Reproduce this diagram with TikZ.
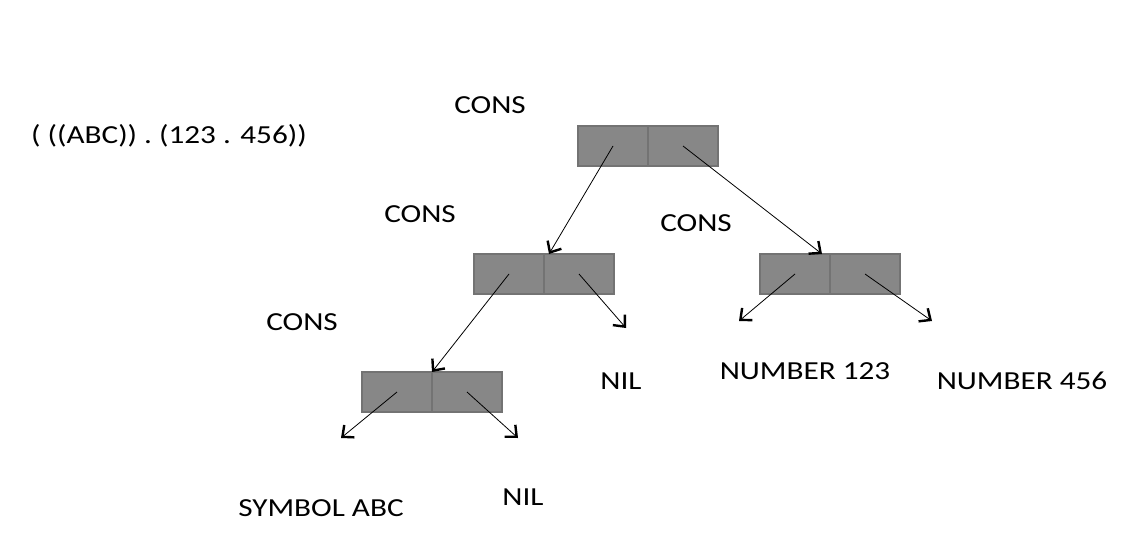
\documentclass[tikz,border=0pt]{standalone}
\usepackage{fontspec}
\setmainfont{Carlito}[FakeStretch=1.2]
\usetikzlibrary{positioning, arrows.meta, calc}

\begin{document}
\begin{tikzpicture}[
  x=1pt, y=-1pt,
  font=\fontsize{26}{30}\selectfont,
  cell/.style={draw=black!55, line width=1.2pt, fill=black!47, minimum width=70pt, minimum height=40pt, inner sep=0pt, outer sep=0pt},
  lbl/.style={inner sep=0pt, anchor=center},
  ptr/.style={-{Straight Barb[length=9pt, width=16pt, line width=2.4pt]}, line width=0.8pt}
]
  \useasboundingbox (0,0) rectangle (1144,541);

  % cons cells
  \node[cell] (c1l) at (613,146) {};
  \node[cell, right=0pt of c1l] (c1r) {};
  \node[cell] (c2l) at (509,274) {};
  \node[cell, right=0pt of c2l] (c2r) {};
  \node[cell] (c3l) at (795,274) {};
  \node[cell, right=0pt of c3l] (c3r) {};
  \node[cell] (c4l) at (397,392) {};
  \node[cell, right=0pt of c4l] (c4r) {};

  % labels
  \node[lbl] (expr) at (169,136) {( ((ABC)) . (123 . 456))};
  \node[lbl] (cons1) at (490,105) {CONS};
  \node[lbl] (cons2) at (420,214) {CONS};
  \node[lbl] (cons3) at (696,223) {CONS};
  \node[lbl] (cons4) at (302,322) {CONS};
  \node[lbl] (nil2) at (621,381) {NIL};
  \node[lbl] (num1) at (805,371) {NUMBER 123};
  \node[lbl] (num2) at (1022,381) {NUMBER 456};
  \node[lbl] (sym) at (321,508) {SYMBOL ABC};
  \node[lbl] (nil4) at (523,497) {NIL};

  % free ends
  \coordinate (e2r) at (626,328);
  \coordinate (e3l) at (739,321);
  \coordinate (e3r) at (932,321);
  \coordinate (e4l) at (341,438);
  \coordinate (e4r) at (518,438);

  % pointers
  \draw[ptr] (c1l.center) -- ($(c2l.north east)+(5,0)$);
  \draw[ptr] (c1r.center) -- ($(c3l.north east)+(-8,0)$);
  \draw[ptr] (c2l.center) -- (c4l.north east);
  \draw[ptr] (c2r.center) -- (e2r);
  \draw[ptr] (c3l.center) -- (e3l);
  \draw[ptr] (c3r.center) -- (e3r);
  \draw[ptr] (c4l.center) -- (e4l);
  \draw[ptr] (c4r.center) -- (e4r);
\end{tikzpicture}
\end{document}
